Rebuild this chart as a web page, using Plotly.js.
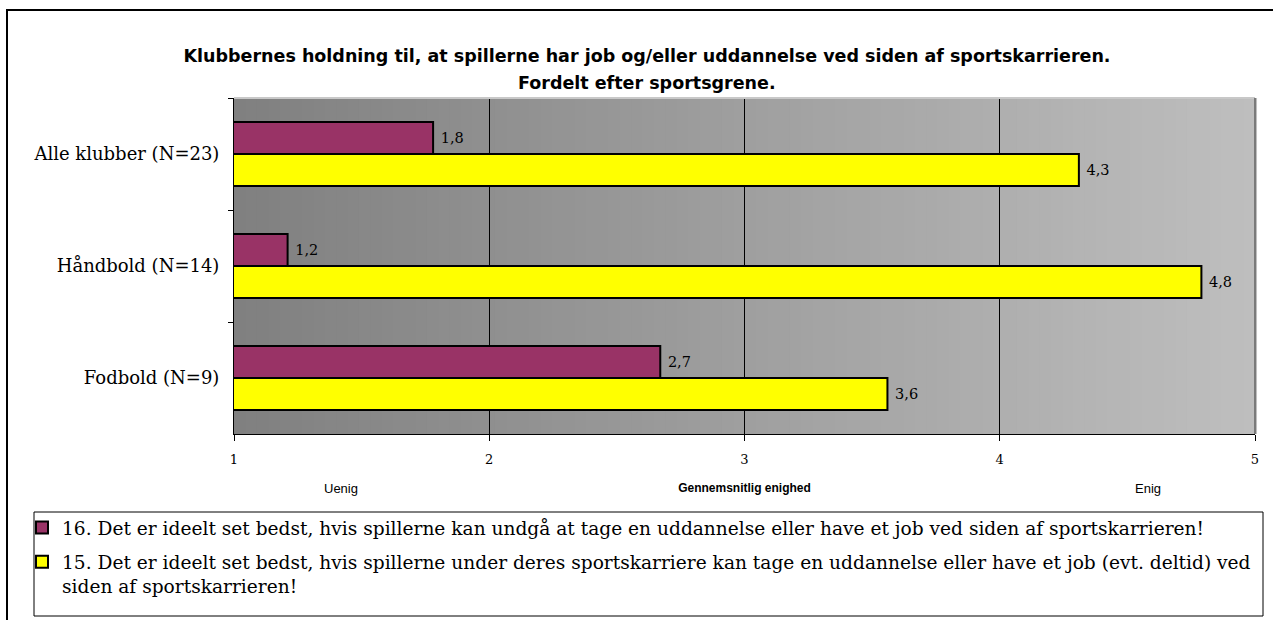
<!DOCTYPE html>
<html>
<head>
<meta charset="utf-8">
<script src="https://cdn.plot.ly/plotly-3.0.1.min.js"></script>
<style>html,body{margin:0;padding:0;background:#fff;}#chart{width:1273px;height:620px;}</style>
</head>
<body>
<div id="chart"></div>
<script>
// ---- data ----
const categories = ['Alle klubber (N=23)', 'Håndbold (N=14)', 'Fodbold (N=9)'];
const q16Values = [1.78, 1.21, 2.67];
const q15Values = [4.31, 4.79, 3.56];
const q16Name = '16. Det er ideelt set bedst, hvis spillerne kan undgå at tage en uddannelse eller have et job ved siden af sportskarrieren!';
const q15Name = '15. Det er ideelt set bedst, hvis spillerne under deres sportskarriere kan tage en uddannelse eller have et job (evt. deltid) ved<br>siden af sportskarrieren!';
const xTickValues = [1, 2, 3, 4, 5];
const titleLine1 = 'Klubbernes holdning til, at spillerne har job og/eller uddannelse ved siden af sportskarrieren.';
const titleLine2 = 'Fordelt efter sportsgrene.';
const xAxisTitle = 'Gennemsnitlig enighed';
const leftLabel = 'Uenig';
const rightLabel = 'Enig';

// ---- layout helpers ----
const W = 1273, H = 620;
const M = {l: 234, r: 18, t: 98, b: 186};
const pw = W - M.l - M.r, ph = H - M.t - M.b;
const px2x = p => (p - M.l) / pw;
const py2y = p => (H - M.b - p) / ph;

const serif = 'DejaVu Serif, Liberation Serif, serif';
const sans = 'DejaVu Sans, Liberation Sans, sans-serif';
const lsans = 'Liberation Sans, Arial, sans-serif';

const traces = [
  {
    type: 'bar', orientation: 'h', name: q16Name, y: categories, x: q16Values,
    legendgroup: 'g16',
    marker: {color: '#993366', line: {color: '#000', width: 2}},
    texttemplate: '\u00a0%{x:.1f}', textposition: 'outside',
    textfont: {family: serif, size: 14.5, color: '#000'},
    cliponaxis: false, hoverinfo: 'x+y'
  },
  {
    type: 'bar', orientation: 'h', name: q15Name, y: categories, x: q15Values,
    legendgroup: 'g15',
    marker: {color: '#ffff00', line: {color: '#000', width: 2}},
    texttemplate: '\u00a0%{x:.1f}', textposition: 'outside',
    textfont: {family: serif, size: 14.5, color: '#000'},
    cliponaxis: false, hoverinfo: 'x+y'
  }
];

// gradient background bands
const shapes = [];
const N = 90;
for (let i = 0; i < N; i++) {
  const t = i / (N - 1);
  const c = Math.round(128 + t * (190 - 128));
  shapes.push({
    type: 'rect', xref: 'paper', yref: 'paper', layer: 'below',
    x0: i / N, x1: (i + 1) / N + 0.002, y0: 0, y1: 1,
    fillcolor: `rgb(${c},${c},${c})`, line: {width: 0}
  });
}
// plot area top & right borders
shapes.push({type: 'line', xref: 'paper', yref: 'paper', x0: 0, x1: 1, y0: 1, y1: 1,
  line: {color: '#c8c8c8', width: 2}});
shapes.push({type: 'line', xref: 'paper', yref: 'paper', x0: 1, x1: 1, y0: 0, y1: 1,
  line: {color: '#7a7a7a', width: 2}});
// outer frame
shapes.push({type: 'rect', xref: 'paper', yref: 'paper',
  x0: px2x(7), x1: px2x(1285), y0: py2y(640), y1: py2y(10),
  line: {color: '#000', width: 2}, fillcolor: 'rgba(0,0,0,0)'});
// legend box
shapes.push({type: 'rect', xref: 'paper', yref: 'paper',
  x0: px2x(34), x1: px2x(1263), y0: py2y(616), y1: py2y(512),
  line: {color: '#000', width: 1}, fillcolor: 'rgba(0,0,0,0)'});

const layout = {
  width: W, height: H,
  margin: M,
  paper_bgcolor: '#fff', plot_bgcolor: 'rgba(0,0,0,0)',
  separators: ', ',
  barmode: 'group', bargap: 0.43, bargroupgap: 0,
  showlegend: true,
  title: {
    text: titleLine1, xref: 'container', yref: 'container',
    x: 647 / W, xanchor: 'center', y: 1 - 56 / H, yanchor: 'middle',
    font: {family: sans, size: 17.5, color: '#000', weight: 700}
  },
  xaxis: {
    range: [1, 5], tickvals: xTickValues, ticktext: xTickValues.map(String),
    ticks: 'outside', ticklen: 6, tickcolor: '#000',
    showline: true, linecolor: '#000', linewidth: 1,
    showgrid: true, gridcolor: '#000', gridwidth: 1, zeroline: false,
    tickfont: {family: serif, size: 13, color: '#000'},
    ticklabelstandoff: 7,
    title: {text: xAxisTitle, standoff: 18,
      font: {family: lsans, size: 12, color: '#000', weight: 700}},
    fixedrange: true
  },
  yaxis: {
    type: 'category', autorange: 'reversed',
    ticks: 'outside', tickson: 'boundaries', ticklen: 5, tickcolor: '#000',
    showline: true, linecolor: '#000', linewidth: 1,
    showgrid: false, zeroline: false,
    tickfont: {family: serif, size: 18, color: '#000'},
    ticklabelstandoff: 10,
    fixedrange: true
  },
  legend: {
    x: px2x(22), xanchor: 'left', y: py2y(509), yanchor: 'top',
    bgcolor: 'rgba(0,0,0,0)', borderwidth: 0,
    font: {family: serif, size: 18.6, color: '#000'},
    valign: 'top', traceorder: 'grouped', tracegroupgap: 7,
    itemclick: false, itemdoubleclick: false
  },
  annotations: [
    {text: titleLine2, xref: 'paper', yref: 'paper', x: px2x(647), y: py2y(83),
      xanchor: 'center', yanchor: 'middle', showarrow: false,
      font: {family: sans, size: 17.5, color: '#000', weight: 700}},
    {text: leftLabel, xref: 'x', yref: 'paper', x: 1.42, y: py2y(488),
      xanchor: 'center', yanchor: 'middle', showarrow: false,
      font: {family: lsans, size: 13, color: '#000'}},
    {text: rightLabel, xref: 'x', yref: 'paper', x: 4.58, y: py2y(488),
      xanchor: 'center', yanchor: 'middle', showarrow: false,
      font: {family: lsans, size: 13, color: '#000'}}
  ],
  shapes: shapes
};

Plotly.newPlot('chart', traces, layout, {displayModeBar: false});
</script>
</body>
</html>
